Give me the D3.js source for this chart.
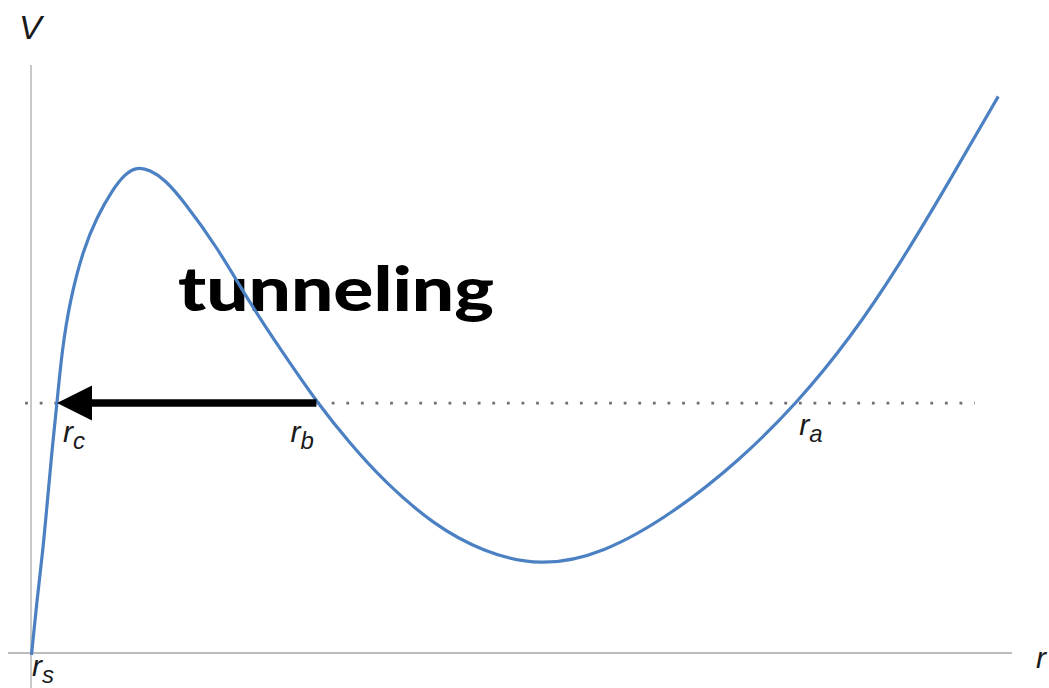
<!DOCTYPE html>
<html>
<head>
<meta charset="utf-8">
<script src="https://cdn.jsdelivr.net/npm/d3@7/dist/d3.min.js"></script>
<style>
  html, body { margin: 0; padding: 0; background: #fff; }
  svg { display: block; }
  .lbl { font-family: "Liberation Sans", Arial, sans-serif; font-style: italic; fill: #1a1a1a; }
</style>
</head>
<body>
<svg id="chart" width="1049" height="688"></svg>
<script>
// Potential V(r): sampled points along the curve
const rValues = [0.005, 0.061, 0.122, 0.168, 0.214, 0.265, 0.316, 0.398, 0.530, 0.673, 0.826, 0.958, 1.080,
                 1.213, 1.366, 1.55, 1.90, 2.23, 2.57, 2.92, 3.25, 3.59, 4.10, 4.61, 5.19, 5.83, 6.54, 7.23,
                 7.81, 8.35, 8.86, 9.37, 9.86];
const vValues = [-0.02, 0.54, 1.05, 1.56, 2.07, 2.55, 3.09, 3.60, 4.11, 4.45, 4.72, 4.89, 4.96,
                 4.93, 4.83, 4.62, 4.14, 3.57, 3.06, 2.55, 2.14, 1.76, 1.31, 1.03, 0.88, 1.01, 1.42, 1.97,
                 2.55, 3.21, 3.97, 4.83, 5.68];

// Energy level and the turning points on it
const energy = 2.55;
const turningPoints = [
  { name: "c", r: 0.265 },
  { name: "b", r: 2.92 },
  { name: "a", r: 7.81 }
];
const rs = 0.0;

const svg = d3.select("#chart");

const x = d3.scaleLinear().domain([0, 10]).range([31, 1012]);
const y = d3.scaleLinear().domain([0, 6]).range([653, 65]);

// Axes
svg.append("line")
  .attr("x1", x(0)).attr("x2", x(0))
  .attr("y1", y(6)).attr("y2", 688)
  .attr("stroke", "#c8c8c8").attr("stroke-width", 2);
svg.append("line")
  .attr("x1", x(-0.235)).attr("x2", x(10))
  .attr("y1", y(0)).attr("y2", y(0))
  .attr("stroke", "#bdbdbd").attr("stroke-width", 2);

// Dotted energy level
svg.append("line")
  .attr("x1", x(-0.06)).attr("x2", x(9.62))
  .attr("y1", y(energy)).attr("y2", y(energy))
  .attr("stroke", "#6f6f6f").attr("stroke-width", 2.8)
  .attr("stroke-dasharray", "2.8 11.8")
  .attr("stroke-linecap", "butt");

// Label
svg.append("text")
  .attr("x", 178).attr("y", 311)
  .attr("font-family", "Lato, 'Open Sans', sans-serif")
  .attr("font-weight", 900)
  .attr("font-size", 60)
  .attr("textLength", 316)
  .attr("lengthAdjust", "spacingAndGlyphs")
  .attr("fill", "#000")
  .text("tunneling");

// Curve
const pts = rValues.map((r, i) => [r, vValues[i]]);
const line = d3.line()
  .x(d => x(d[0]))
  .y(d => y(d[1]))
  .curve(d3.curveBasis);
svg.append("path")
  .datum(pts)
  .attr("d", line)
  .attr("fill", "none")
  .attr("stroke", "#4b80c3")
  .attr("stroke-width", 3.2)
  .attr("stroke-linejoin", "round");

// Tunneling arrow from r_b to r_c
const rb = turningPoints.find(d => d.name === "b").r;
const rc = turningPoints.find(d => d.name === "c").r;
const tipX = x(rc), yE = y(energy);
svg.append("line")
  .attr("x1", x(rb) - 1).attr("x2", tipX + 30)
  .attr("y1", yE).attr("y2", yE)
  .attr("stroke", "#000").attr("stroke-width", 7.5);
svg.append("path")
  .attr("d", `M${tipX},${yE} L${tipX + 35},${yE - 17.5} L${tipX + 35},${yE + 17.5} Z`)
  .attr("fill", "#000");

// Turning point labels
function subLabel(px, py, sub) {
  const t = svg.append("text").attr("class", "lbl").attr("x", px).attr("y", py).attr("font-size", 30);
  t.append("tspan").text("r");
  t.append("tspan").attr("font-size", 24).attr("dy", 7).text(sub);
}
const offsets = { c: [6, 442], b: [-27, 442], a: [2, 435] };
turningPoints.forEach(d => {
  subLabel(x(d.r) + offsets[d.name][0], offsets[d.name][1], d.name);
});
subLabel(x(rs) + 1, 676, "s");

// Axis titles
svg.append("text").attr("class", "lbl")
  .attr("x", 19).attr("y", 39).attr("font-size", 34).text("V");
svg.append("text").attr("class", "lbl")
  .attr("x", 1036).attr("y", 668).attr("font-size", 30).text("r");
</script>
</body>
</html>
